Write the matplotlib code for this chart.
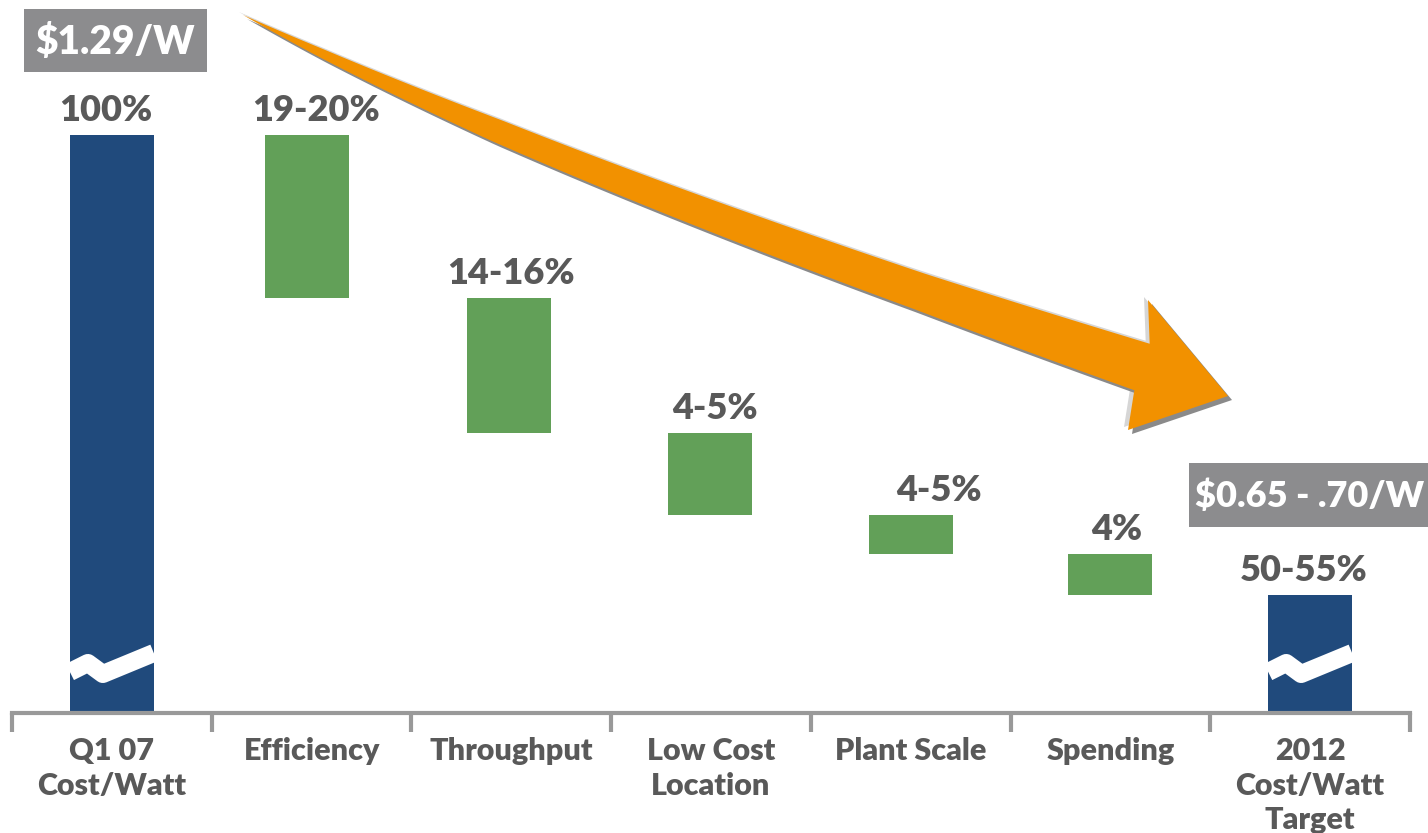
import matplotlib
matplotlib.use('Agg')
import matplotlib.pyplot as plt
from matplotlib.patches import Polygon, Rectangle
import numpy as np

plt.rcParams['font.family'] = ['Lato', 'DejaVu Sans']
plt.rcParams['font.weight'] = 'heavy'

# Waterfall data (cost index, Q1 07 = 100)
categories = ['Q1 07\nCost/Watt', 'Efficiency', 'Throughput', 'Low Cost\nLocation',
              'Plant Scale', 'Spending', '2012\nCost/Watt\nTarget']
start_value = 100.0
drops = [16.3, 13.5, 8.2, 3.9, 4.1]
value_labels = ['100%', '19-20%', '14-16%', '4-5%', '4-5%', '4%', '50-55%']
price_labels = ['$1.29/W', '$0.65 - .70/W']

BLUE = '#204A7C'
GREEN = '#62A058'
ORANGE = '#F29100'
GRAY_TEXT = '#595959'
AXIS_GRAY = '#999999'
BOX_GRAY = '#8C8C8E'

W, H = 1428, 833
fig = plt.figure(figsize=(W / 100, H / 100), dpi=100)

# main axes: x from 12 px to 1410 px, baseline at y = 713 px
ax = fig.add_axes([12 / W, 120 / H, 1398 / W, 713 / H])
y_bottom = 42.2
ax.set_xlim(-0.5, 6.5)
ax.set_ylim(y_bottom, 113.5)

levels = [start_value]
for d in drops:
    levels.append(levels[-1] - d)
end_value = levels[-1]

bar_w = 0.42
x = np.arange(len(categories))
x_pos = x - np.array([0, 0.025, 0.01, 0.005, 0, 0, 0])

# totals (blue) and steps (green)
total_bars = ax.bar(x_pos[[0, 6]], [start_value - y_bottom, end_value - y_bottom],
                    bottom=y_bottom, width=bar_w, color=BLUE, zorder=2)
ax.bar(x_pos[1:6], drops, bottom=levels[1:], width=bar_w, color=GREEN, zorder=2)

# axis break marks on the total bars
brk_dx = np.array([-0.21, -0.12, -0.045, 0.21])
brk_y = np.array([46.3, 47.2, 46.1, 48.2])
for i, b in zip([0, 6], total_bars):
    ln, = ax.plot(x_pos[i] + brk_dx, brk_y, color='white', lw=13, solid_joinstyle='round',
                  solid_capstyle='butt', zorder=3)
    ln.set_clip_path(b)

# value labels above each bar
tops = [start_value] + levels[:5] + [end_value]
label_dx = [-0.03, 0.02, 0.0, 0.02, 0.14, 0.03, -0.03]
for i, (t, lab) in enumerate(zip(tops, value_labels)):
    ax.text(i + label_dx[i], t + 1.4, lab, ha='center', va='baseline',
            fontsize=26, fontweight='heavy', color=GRAY_TEXT)

# category axis
for s in ['top', 'left', 'right']:
    ax.spines[s].set_visible(False)
ax.spines['bottom'].set_color(AXIS_GRAY)
ax.spines['bottom'].set_linewidth(3)
ax.set_yticks([])
ax.set_xticks(np.arange(-0.5, 7, 1))
ax.set_xticklabels([])
ax.tick_params(axis='x', which='major', length=14, width=3, color=AXIS_GRAY, direction='out')
ax.set_xticks(x, minor=True)
ax.set_xticklabels(categories, minor=True, fontsize=22, fontweight='heavy',
                   color=GRAY_TEXT, linespacing=1.3)
ax.tick_params(axis='x', which='minor', length=0, pad=17)

# overlay in pixel coordinates for arrow and price boxes
ov = fig.add_axes([0, 0, 1, 1], zorder=5)
ov.set_xlim(0, W)
ov.set_ylim(H, 0)
ov.axis('off')
ov.patch.set_alpha(0)

# curved trend arrow: quadratic bezier spine with a widening shaft
t = np.linspace(0, 1, 120)
p0, p1, p2 = np.array([243, 15]), np.array([560, 175]), np.array([1142, 367])
cx = (1 - t) ** 2 * p0[0] + 2 * (1 - t) * t * p1[0] + t ** 2 * p2[0]
cy = (1 - t) ** 2 * p0[1] + 2 * (1 - t) * t * p1[1] + t ** 2 * p2[1]
tx = 2 * (1 - t) * (p1[0] - p0[0]) + 2 * t * (p2[0] - p1[0])
ty = 2 * (1 - t) * (p1[1] - p0[1]) + 2 * t * (p2[1] - p1[1])
nrm = np.hypot(tx, ty)
nx, ny = -ty / nrm, tx / nrm
half = np.interp(t, [0, 0.12, 0.35, 0.8, 1.0], [0, 4.5, 11.5, 18.5, 24.5])
upper = np.column_stack([cx - nx * half, cy - ny * half])
lower = np.column_stack([cx + nx * half, cy + ny * half])
head = np.array([[1148, 300], [1228, 396], [1128, 430]])
arrow_pts = np.vstack([upper, head, lower[::-1]])

ov.add_patch(Polygon(arrow_pts + [-4, -3], closed=True, color='#D6D6D6', lw=0))
ov.add_patch(Polygon(arrow_pts + [4, 4], closed=True, color='#8A8A8A', lw=0))
ov.add_patch(Polygon(arrow_pts, closed=True, color=ORANGE, lw=0))

# price boxes
ov.add_patch(Rectangle((24, 9), 183, 63, color=BOX_GRAY, lw=0))
ov.text(115, 42, price_labels[0], ha='center', va='center', fontsize=28,
        fontweight='heavy', color='white')
ov.add_patch(Rectangle((1189, 463), 260, 64, color=BOX_GRAY, lw=0))
ov.text(1310, 496, price_labels[1], ha='center', va='center', fontsize=26,
        fontweight='heavy', color='white')

fig.savefig('out.png', dpi=100)
